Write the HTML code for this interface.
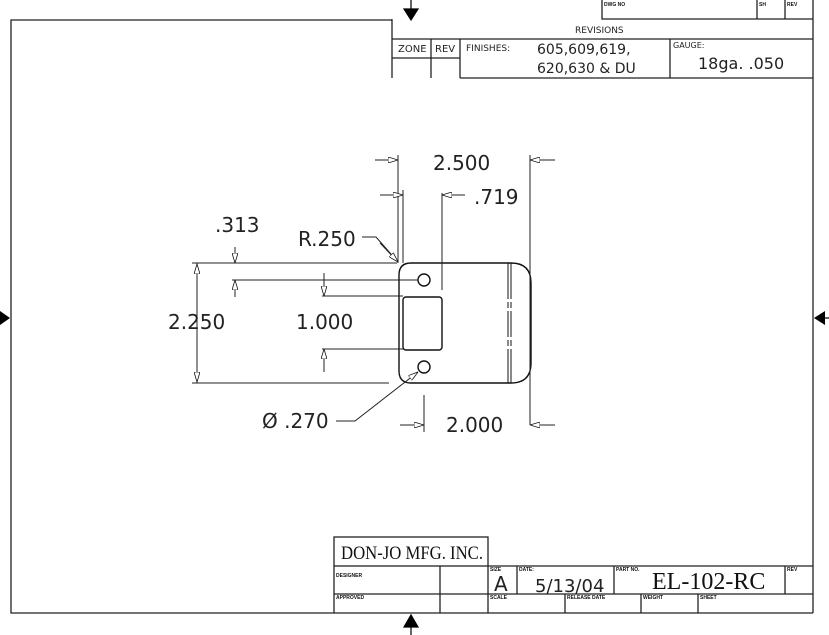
<!DOCTYPE html>
<html><head><meta charset="utf-8"><style>
html,body{margin:0;padding:0;background:#fff;}
svg{display:block;}
.t{font-family:"DejaVu Sans","Liberation Sans",sans-serif;font-weight:normal;fill:#222;}
.s{font-family:"Liberation Serif",serif;fill:#111;}
.sm{font-family:"Liberation Sans",sans-serif;font-size:5px;font-weight:bold;fill:#111;}
</style></head><body>
<svg width="829" height="635" viewBox="0 0 829 635" xmlns="http://www.w3.org/2000/svg">
<defs>
<marker id="a" viewBox="0 0 10 6" refX="10" refY="3" markerWidth="10" markerHeight="6" markerUnits="userSpaceOnUse" orient="auto">
<path d="M0,0 L10,3 L0,6 z" fill="#fff" stroke="#111" stroke-width="0.8"/></marker>
</defs>
<g stroke="#222" stroke-width="1.3" fill="none">
<polyline points="392,20 11,20 11,613 334,613"/>
<line x1="813" y1="0" x2="813" y2="613"/>
<polyline points="602,0 602,19 813,19"/>
<line x1="757" y1="0" x2="757" y2="19"/>
<line x1="785" y1="0" x2="785" y2="19"/>
<line x1="392" y1="19" x2="392" y2="78"/>
<line x1="392" y1="39" x2="813" y2="39"/>
<line x1="392" y1="58" x2="460" y2="58"/>
<line x1="431" y1="39" x2="431" y2="78"/>
<line x1="460" y1="39" x2="460" y2="78"/>
<line x1="670" y1="39" x2="670" y2="78"/>
<line x1="460" y1="78" x2="813" y2="78"/>
<rect x="334" y="537" width="154" height="29"/>
<line x1="334" y1="566" x2="334" y2="613"/>
<line x1="334" y1="594" x2="813" y2="594"/>
<line x1="488" y1="566" x2="813" y2="566"/>
<line x1="334" y1="613" x2="813" y2="613"/>
<line x1="440" y1="566" x2="440" y2="613"/>
<line x1="488" y1="566" x2="488" y2="613"/>
<line x1="517" y1="566" x2="517" y2="594"/>
<line x1="614" y1="566" x2="614" y2="594"/>
<line x1="785" y1="566" x2="785" y2="594"/>
<line x1="565" y1="594" x2="565" y2="613"/>
<line x1="641" y1="594" x2="641" y2="613"/>
<line x1="698" y1="594" x2="698" y2="613"/>
</g>
<g fill="#000" stroke="#000" stroke-width="1.2">
<line x1="411" y1="0" x2="411" y2="10"/><path d="M404,9 L418,9 L411,20z"/>
<line x1="411" y1="625" x2="411" y2="635"/><path d="M404,627 L418,627 L411,615z"/>
<path d="M0,311 L0,325 L10,318z" stroke="none"/>
<line x1="822" y1="318" x2="829" y2="318"/><path d="M825,311 L825,325 L814,318z" stroke="none"/>
</g>
<g stroke="#111" stroke-width="1.4" fill="none">
<path d="M411,263 L511,263 Q531,263 531,283 L531,363 Q531,383 511,383 L411,383 Q399,383 399,371 L399,275 Q399,263 411,263 Z"/>
<circle cx="424" cy="280" r="6"/>
<circle cx="424" cy="367" r="6"/>
<rect x="403" y="297" width="39" height="53" rx="3"/>
<line x1="508" y1="263" x2="508" y2="383" stroke-width="1" stroke-dasharray="36,3,6,3,26,3,6,3,34"/>
<line x1="511" y1="263" x2="511" y2="383" stroke-width="1" stroke-dasharray="36,3,6,3,26,3,6,3,34"/>
</g>
<g stroke="#222" stroke-width="1" fill="none">
<line x1="398" y1="155" x2="398" y2="263"/>
<line x1="530" y1="155" x2="530" y2="425"/>
<line x1="375" y1="160" x2="398" y2="160" marker-end="url(#a)"/>
<line x1="555" y1="160" x2="530" y2="160" marker-end="url(#a)"/>
<line x1="403" y1="190" x2="403" y2="263"/>
<line x1="442" y1="193" x2="442" y2="290"/>
<line x1="380" y1="195" x2="403" y2="195" marker-end="url(#a)"/>
<line x1="465" y1="195" x2="442" y2="195" marker-end="url(#a)"/>
<line x1="192" y1="263" x2="397" y2="263"/>
<line x1="232" y1="280" x2="418" y2="280"/>
<line x1="235" y1="247" x2="235" y2="263" marker-end="url(#a)"/>
<line x1="235" y1="297" x2="235" y2="280" marker-end="url(#a)"/>
<line x1="197" y1="263" x2="197" y2="383"/>
<line x1="197" y1="290" x2="197" y2="264" marker-end="url(#a)"/>
<line x1="197" y1="355" x2="197" y2="382" marker-end="url(#a)"/>
<line x1="192" y1="383" x2="389" y2="383"/>
<line x1="322" y1="296" x2="403" y2="296"/>
<line x1="322" y1="349" x2="403" y2="349"/>
<line x1="324" y1="273" x2="324" y2="296" marker-end="url(#a)"/>
<line x1="324" y1="372" x2="324" y2="349" marker-end="url(#a)"/>
<polyline points="362,237 376,237 398,262" />
<line x1="380" y1="243" x2="398" y2="262" marker-end="url(#a)"/>
<polyline points="336,421 355,421 418,372"/>
<line x1="410" y1="378" x2="418" y2="372" marker-end="url(#a)"/>
<line x1="424" y1="395" x2="424" y2="432"/>
<line x1="400" y1="425" x2="424" y2="425" marker-end="url(#a)"/>
<line x1="555" y1="425" x2="530" y2="425" marker-end="url(#a)"/>
</g>
<g class="t" font-size="20" font-weight="300">
<text x="433" y="170">2.500</text>
<text x="474" y="204">.719</text>
<text x="215" y="232">.313</text>
<text x="298" y="246">R.250</text>
<text x="168" y="329">2.250</text>
<text x="296" y="329">1.000</text>
<text x="262" y="428">Ø .270</text>
<text x="446" y="432">2.000</text>
</g>
<g class="t">
<text x="575" y="33" font-size="9">REVISIONS</text>
<text x="398" y="52" font-size="10">ZONE</text>
<text x="435" y="52" font-size="10">REV</text>
<text x="466" y="51" font-size="9">FINISHES:</text>
<text x="537" y="54" font-size="14">605,609,619,</text>
<text x="537" y="73" font-size="14">620,630 &amp; DU</text>
<text x="673" y="48" font-size="8">GAUGE:</text>
<text x="698" y="69" font-size="16">18ga. .050</text>
</g>
<text class="sm" x="604" y="6">DWG NO</text>
<text class="sm" x="759" y="6">SH</text>
<text class="sm" x="787" y="6">REV</text>
<text class="s" x="341" y="559" font-size="19" textLength="142" lengthAdjust="spacingAndGlyphs">DON-JO MFG. INC.</text>
<text class="sm" x="336" y="577">DESIGNER</text>
<text class="sm" x="336" y="599">APPROVED</text>
<text class="sm" x="490" y="571">SIZE</text>
<text class="sm" x="519" y="571">DATE:</text>
<text class="sm" x="616" y="571">PART NO.</text>
<text class="sm" x="787" y="571">REV</text>
<text class="sm" x="490" y="599">SCALE</text>
<text class="sm" x="567" y="599">RELEASE DATE</text>
<text class="sm" x="643" y="599">WEIGHT</text>
<text class="sm" x="700" y="599">SHEET</text>
<text class="t" x="494" y="591" font-size="20" font-weight="300">A</text>
<text class="t" x="535" y="592" font-size="18" font-weight="300">5/13/04</text>
<text class="s" x="652" y="589" font-size="24">EL-102-RC</text>
</svg>
</body></html>
